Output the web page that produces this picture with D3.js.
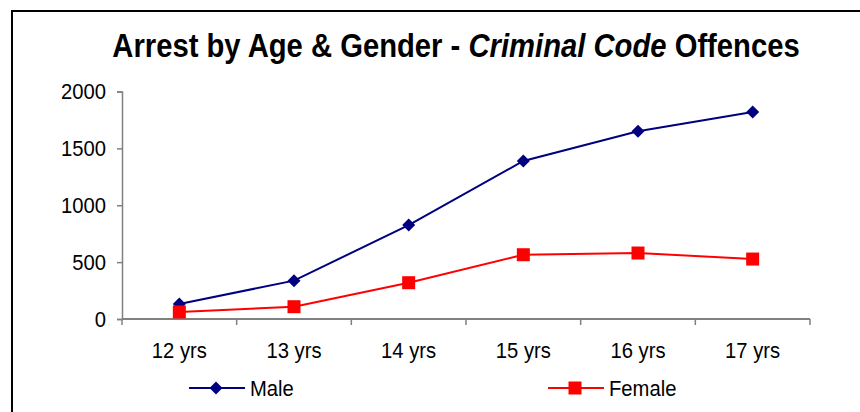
<!DOCTYPE html>
<html>
<head>
<meta charset="utf-8">
<script src="https://cdn.jsdelivr.net/npm/d3@7"></script>
<style>
  body { margin: 0; background: #fff; }
  svg { display: block; font-family: "Liberation Sans", Arial, sans-serif; }
</style>
</head>
<body>
<svg id="chart" width="860" height="412"></svg>
<script>
// chart data
const ages = ["12 yrs", "13 yrs", "14 yrs", "15 yrs", "16 yrs", "17 yrs"];
const male = [132, 337, 826, 1389, 1650, 1820];
const female = [62, 108, 319, 565, 580, 527];
const yTicks = [0, 500, 1000, 1500, 2000];

const margin = { left: 122, top: 91.5 };
const axisRight = 810, axisBottom = 319;

const svg = d3.select("#chart");

// the source font looks a bit condensed, so squeeze text horizontally
function label(g, px, py, txt, size, anchor, sx) {
    return g.append("text")
        .attr("transform", `translate(${px},${py}) scale(${sx},1)`)
        .attr("text-anchor", anchor)
        .style("font-size", size + "px")
        .text(txt);
}

// outer frame (only left and top edges fall inside the window)
svg.append("rect")
    .attr("x", 12).attr("y", 11)
    .attr("width", 900).attr("height", 500)
    .attr("fill", "none").attr("stroke", "#000").attr("stroke-width", 2);

// title, with the italic part
const title = svg.append("text")
    .attr("transform", "translate(456,57) scale(0.86,1)")
    .attr("text-anchor", "middle")
    .style("font-size", "34px").style("font-weight", "bold");
title.append("tspan").text("Arrest by Age & Gender - ");
title.append("tspan").style("font-style", "italic").text("Criminal Code");
title.append("tspan").text(" Offences");

const x = d3.scaleBand().domain(ages).range([margin.left, axisRight]);
const y = d3.scaleLinear().domain([0, 2000]).range([axisBottom, margin.top]);

// y axis
const yAxis = svg.append("g")
    .attr("transform", `translate(${margin.left},0)`)
    .call(d3.axisLeft(y).tickValues(yTicks).tickSize(5).tickFormat(""));
yAxis.select(".domain").attr("stroke", "#808080").attr("stroke-width", 1.5);
yAxis.selectAll(".tick line").attr("stroke", "#808080").attr("stroke-width", 1.5);
yTicks.forEach(t => label(svg, 106, y(t) + 7.5, t, 22, "end", 0.92));

// x axis with ticks between categories
const xAxis = svg.append("g")
    .attr("transform", `translate(0,${axisBottom})`);
xAxis.append("line")
    .attr("x1", margin.left).attr("x2", axisRight)
    .attr("stroke", "#808080").attr("stroke-width", 2);
const edges = ages.map(a => x(a)).concat([axisRight]);
xAxis.selectAll(".tk").data(edges).enter().append("line")
    .attr("x1", d => d).attr("x2", d => d)
    .attr("y1", 0).attr("y2", 6)
    .attr("stroke", "#808080").attr("stroke-width", 1.5);

const cx = d => x(d) + x.bandwidth() / 2;
ages.forEach(a => label(svg, cx(a), 358, a, 22, "middle", 0.92));

const line = d3.line().x((d, i) => cx(ages[i])).y(d => y(d));

const series = [
    { name: "Male", values: male, color: "#000080", shape: "diamond" },
    { name: "Female", values: female, color: "#FF0000", shape: "square" }
];

const marker = (g, s, px, py) => {
    if (s.shape === "diamond") {
        g.append("path")
            .attr("d", `M${px},${py - 6.5}L${px + 6.5},${py}L${px},${py + 6.5}L${px - 6.5},${py}Z`)
            .attr("fill", s.color);
    } else {
        g.append("rect")
            .attr("x", px - 6.5).attr("y", py - 6.5)
            .attr("width", 13).attr("height", 13)
            .attr("fill", s.color);
    }
};

series.forEach(s => {
    svg.append("path")
        .datum(s.values)
        .attr("d", line)
        .attr("fill", "none")
        .attr("stroke", s.color)
        .attr("stroke-width", 2);
    const g = svg.append("g");
    s.values.forEach((v, i) => marker(g, s, cx(ages[i]), y(v)));
});

// legend
const legendX = [189, 548];
series.forEach((s, i) => {
    const g = svg.append("g").attr("transform", `translate(${legendX[i]},388)`);
    g.append("line").attr("x1", 0).attr("x2", 56)
        .attr("stroke", s.color).attr("stroke-width", 2);
    marker(g, s, 27, 0);
    label(g, 61, 8, s.name, 22, "start", 0.92);
});
</script>
</body>
</html>
